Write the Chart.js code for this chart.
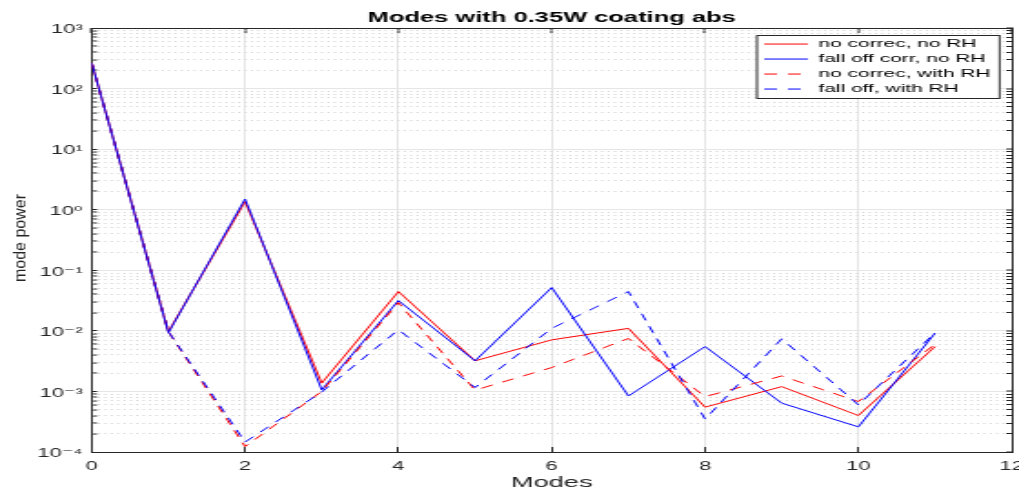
<!DOCTYPE html>
<html>
<head>
<meta charset="utf-8">
<script src="https://cdn.jsdelivr.net/npm/chart.js@4.4.1/dist/chart.umd.min.js"></script>
<style>
  html, body { margin: 0; padding: 0; background: #fff; }
  #myChart { display: block; }
</style>
</head>
<body>
<canvas id="myChart" width="560" height="491" style="width:1019px;height:491px"></canvas>
<script>
// The reference is a MATLAB figure that was stretched sideways,
// so the chart is drawn on a narrow canvas and widened by CSS.
const stretchX = 1019 / 560;

// Values
const modes = [0, 1, 2, 3, 4, 5, 6, 7, 8, 9, 10, 11];
const noCorrNoRH    = [263, 0.0097, 1.36, 1.37e-3, 0.0446, 3.2e-3, 7.1e-3, 0.011, 5.5e-4, 1.2e-3, 4.0e-4, 5.5e-3];
const fallOffNoRH   = [263, 0.0093, 1.5, 1.06e-3, 0.0316, 3.2e-3, 0.0519, 8.4e-4, 5.5e-3, 6.4e-4, 2.6e-4, 9.2e-3];
const noCorrWithRH  = [263, 0.0097, 1.23e-4, 1.0e-3, 0.0293, 1.05e-3, 2.48e-3, 7.5e-3, 8.2e-4, 1.8e-3, 6.8e-4, 6.0e-3];
const fallOffWithRH = [263, 0.0097, 1.46e-4, 9.8e-4, 0.0104, 1.16e-3, 0.011, 0.0446, 3.5e-4, 7.4e-3, 6.0e-4, 9.3e-3];
const seriesNames = ['no correc, no RH', 'fall off corr, no RH', 'no correc, with RH', 'fall off, with RH'];

const titleText = 'Modes with 0.35W coating abs';
const xTitle = 'Modes';
const yTitle = 'mode power';
const yDecades = [-4, -3, -2, -1, 0, 1, 2, 3];   // tick labels 10^-4 ... 10^3

// styles
const fontFamily = "'Liberation Sans', 'DejaVu Sans', Arial, sans-serif";
const axisColor = '#262626';
const lineColors = ['#ff0000', '#0000ff', '#ff0000', '#0000ff'];
const lineDashes = [[], [], [7, 6], [7, 6]];

// minor + major tick values for the log axis (1..9 x 10^n)
const yTickValues = [];
yDecades.forEach(d => {
  if (d === yDecades[yDecades.length - 1]) { yTickValues.push(Math.pow(10, d)); return; }
  for (let m = 1; m <= 9; m++) yTickValues.push(Number((m * Math.pow(10, d)).toPrecision(3)));
});

const supMap = { '0': '⁰', '1': '¹', '2': '²', '3': '³', '4': '⁴', '5': '⁵', '6': '⁶', '7': '⁷', '8': '⁸', '9': '⁹', '-': '⁻' };
function isDecade(v) {
  const l = Math.log10(v);
  return Math.abs(l - Math.round(l)) < 1e-6;
}
function tenPower(v) {
  const e = String(Math.round(Math.log10(v)));
  return '10' + e.split('').map(c => supMap[c]).join('');
}

const series = [noCorrNoRH, fallOffNoRH, noCorrWithRH, fallOffWithRH];

// legend box, y title
const figurePlugin = {
  id: 'figure',
  afterLayout(chart) {
    const lg = chart.legend;
    const h = lg.height;
    lg.left = chart.chartArea.right - 139.5;
    lg.top = chart.chartArea.top + 6.8;
    lg.right = lg.left + lg.width + 20;
    lg.bottom = lg.top + h;
  },
  beforeDatasetsDraw(chart) {
    const lg = chart.legend;
    const ctx = chart.ctx;
    const pad = lg.options.labels.padding;
    const col = lg.columnSizes[0];
    const x0 = lg.left - 0.5;
    const y0 = Math.round(lg.top) + 0.5;
    const x1 = lg.left + pad + col.width + 5;
    const y1 = Math.round(lg.top + pad + col.height) + 0.5;
    ctx.save();
    ctx.fillStyle = '#fff';
    ctx.fillRect(x0, y0, x1 - x0, y1 - y0);
    ctx.strokeStyle = axisColor;
    ctx.lineWidth = 1;
    ctx.strokeRect(x0, y0, x1 - x0, y1 - y0);
    ctx.restore();
    lg.draw();
  },
  afterDraw(chart) {
    // y title is not stretched in the reference, so undo the CSS stretch for it
    const ctx = chart.ctx;
    const area = chart.chartArea;
    ctx.save();
    ctx.translate(11.5, (area.top + area.bottom) / 2 - 2);
    ctx.scale(1 / stretchX, 1);
    ctx.rotate(-Math.PI / 2);
    ctx.font = '16px ' + fontFamily;
    ctx.fillStyle = axisColor;
    ctx.textAlign = 'center';
    ctx.textBaseline = 'middle';
    ctx.fillText(yTitle, 0, 0);
    ctx.restore();
  }
};

const logAxisTicks = scale => { scale.ticks = yTickValues.map(v => ({ value: v })); };

let modeChart = new Chart(document.getElementById('myChart'), {
  type: 'line',
  data: {
    datasets: series.map((vals, i) => ({
      label: seriesNames[i],
      data: vals.map((v, j) => ({ x: modes[j], y: v })),
      borderColor: lineColors[i],
      backgroundColor: lineColors[i],
      borderWidth: 1,
      borderDash: lineDashes[i],
      pointRadius: 0,
      tension: 0,
      fill: false,
      order: 4 - i
    }))
  },
  options: {
    responsive: false,
    animation: false,
    devicePixelRatio: 1,
    layout: { padding: 0 },
    plugins: {
      title: {
        display: true,
        text: titleText,
        fullSize: false,
        color: '#000',
        font: { family: fontFamily, size: 14, weight: 'bold' },
        padding: { top: 9.3, bottom: 1.9 }
      },
      legend: {
        position: 'chartArea',
        align: 'start',
        labels: {
          usePointStyle: true,
          pointStyle: 'line',
          pointStyleWidth: 24,
          padding: 3.5,
          color: '#000',
          font: { family: fontFamily, size: 11.5 },
          generateLabels: chart => Chart.defaults.plugins.legend.labels.generateLabels(chart).map(item => {
            const ds = chart.data.datasets[item.datasetIndex];
            return Object.assign(item, { lineDash: ds.borderDash, lineWidth: 1, strokeStyle: ds.borderColor });
          }),
          sort: (a, b) => a.datasetIndex - b.datasetIndex
        }
      },
      tooltip: { enabled: false }
    },
    scales: {
      x: {
        type: 'linear',
        position: 'bottom',
        min: 0,
        max: 12,
        ticks: {
          stepSize: 2,
          autoSkip: false,
          maxRotation: 0,
          padding: 12,
          color: axisColor,
          font: { family: fontFamily, size: 12 },
          callback: v => String(v)
        },
        grid: { color: '#e4e4e4', lineWidth: 1, tickLength: -5, tickColor: axisColor, tickWidth: 1 },
        border: { display: true, color: axisColor, width: 1 },
        title: {
          display: true,
          text: xTitle,
          color: axisColor,
          font: { family: fontFamily, size: 15, lineHeight: 1 },
          padding: { top: 0, bottom: 0.5 }
        },
        afterFit: s => { s.height = 39; s.paddingLeft = 0; s.paddingRight = 0; }
      },
      x2: {
        type: 'linear',
        position: 'top',
        min: 0,
        max: 12,
        ticks: { display: false, stepSize: 2 },
        grid: { lineWidth: 0, tickLength: -5, tickColor: axisColor, tickWidth: 1 },
        border: { display: true, color: axisColor, width: 1 },
        afterFit: s => { s.height = 0; s.paddingLeft = 0; s.paddingRight = 0; }
      },
      y: {
        type: 'logarithmic',
        position: 'left',
        min: 1e-4,
        max: 1e3,
        afterBuildTicks: logAxisTicks,
        ticks: {
          autoSkip: false,
          padding: 8,
          labelOffset: 2,
          color: axisColor,
          font: { family: fontFamily, size: 12 },
          callback: v => (isDecade(v) ? tenPower(v) : '')
        },
        grid: {
          color: '#e6e6e6',
          lineWidth: c => (c.tick && isDecade(c.tick.value) ? 1 : 0),
          tickLength: -3,
          tickColor: axisColor,
          tickWidth: 1
        },
        border: { display: true, color: axisColor, width: 1 },
        afterFit: s => { s.width = 50.4; }
      },
      y2: {
        type: 'logarithmic',
        position: 'right',
        min: 1e-4,
        max: 1e3,
        afterBuildTicks: logAxisTicks,
        ticks: { display: false, autoSkip: false },
        grid: {
          color: '#d4d4d4',
          lineWidth: c => (c.tick && isDecade(c.tick.value) ? 0 : 1),
          tickLength: -3,
          tickColor: axisColor,
          tickWidth: 1
        },
        border: { display: true, color: axisColor, width: 1, dash: [1.1, 2.4] },
        afterFit: s => { s.width = 4; }
      }
    }
  },
  plugins: [figurePlugin]
});
</script>
</body>
</html>
